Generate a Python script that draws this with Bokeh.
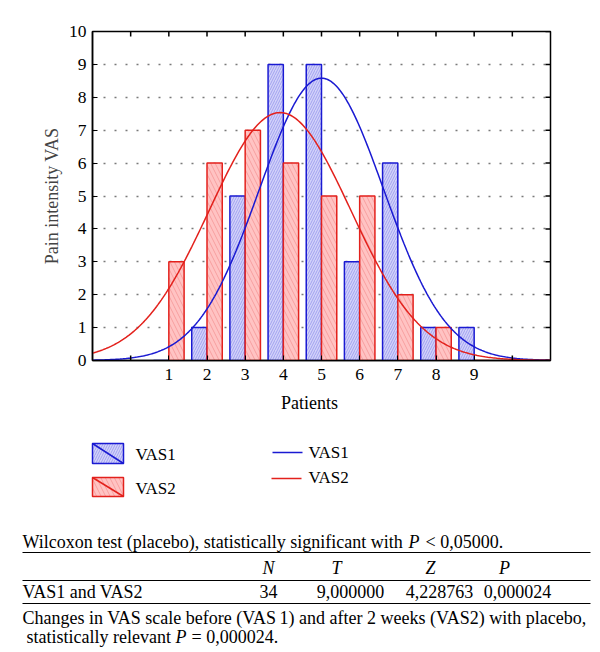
import numpy as np
from bokeh.plotting import figure
from bokeh.models import Range1d, FixedTicker, ColumnDataSource
from bokeh.embed import file_html
from bokeh.resources import INLINE
from bokeh.core.properties import value
from bokeh.transform import dodge

# ---------------- data ----------------
categories = [1, 2, 3, 4, 5, 6, 7, 8, 9]
vas1 = [0, 1, 5, 9, 9, 3, 6, 1, 1]
vas2 = [3, 6, 7, 6, 5, 5, 2, 1, 0]
y_ticks = [0, 1, 2, 3, 4, 5, 6, 7, 8, 9, 10]
x_ticks = [0, 1, 2, 3, 4, 5, 6, 7, 8, 9, 10]
x_label_ticks = [1, 2, 3, 4, 5, 6, 7, 8, 9]
x_unlabeled_ticks = [0, 10]
series_names = ["VAS1", "VAS2"]

table_title = "Wilcoxon test (placebo), statistically significant with"
table_title_end = "< 0,05000."
table_cols = ["N", "T", "Z", "P"]
table_row_label = "VAS1 and VAS2"
table_row_values = ["34", "9,000000", "4,228763", "0,000024"]
note_line1 = "Changes in VAS scale before (VAS\u20091) and after 2 weeks (VAS2) with placebo,"
note_line2_a = "statistically relevant"
note_line2_b = "= 0,000024."

FONT = "Liberation Serif"
BLUE = "#1a1ad2"
RED = "#e3211c"
X_MIN, X_MAX, Y_MIN, Y_MAX = -1, 11, 0, 10


def normal_fit(counts):
    """Normal curve fitted to the histogram counts (as drawn in the original)."""
    c = np.array(categories, dtype=float)
    n = np.array(counts, dtype=float)
    total = n.sum()
    mean = (c * n).sum() / total
    sd = np.sqrt(((c - mean) ** 2 * n).sum() / (total - 1))
    xs = np.linspace(X_MIN, X_MAX, 301)
    ys = total * np.exp(-0.5 * ((xs - mean) / sd) ** 2) / (sd * np.sqrt(2 * np.pi))
    return xs, ys


src = ColumnDataSource(dict(cat=categories, vas1=vas1, vas2=vas2))

# ---------------- main chart ----------------
p = figure(width=600, height=390, x_range=Range1d(X_MIN, X_MAX), y_range=Range1d(Y_MIN, Y_MAX),
           output_backend="svg", toolbar_location=None,
           min_border_left=92, min_border_right=50, min_border_top=31, min_border_bottom=30)
p.outline_line_color = "black"
p.outline_line_width = 1.5
p.background_fill_color = "white"
p.border_fill_color = "white"

p.xgrid.visible = False
p.ygrid.ticker = FixedTicker(ticks=y_ticks[1:-1])
p.ygrid.grid_line_color = "#7a7a7a"
p.ygrid.grid_line_width = 1.5
p.ygrid.grid_line_dash = "2 9"

p.vbar(x=dodge("cat", -0.2, range=p.x_range), top="vas1", width=0.4, source=src,
       fill_color="#d2d2fa", line_color=BLUE, line_width=1.5,
       hatch_pattern="/", hatch_color="#7a7ae6", hatch_alpha=0.55, hatch_scale=5, hatch_weight=1)
p.vbar(x=dodge("cat", 0.2, range=p.x_range), top="vas2", width=0.4, source=src,
       fill_color="#ffc3c3", line_color=RED, line_width=1.5,
       hatch_pattern="\\", hatch_color="#f07a7a", hatch_alpha=0.5, hatch_scale=9, hatch_weight=1)

x1, y1 = normal_fit(vas1)
x2, y2 = normal_fit(vas2)
p.line(x1, y1, line_color=BLUE, line_width=1.5)
p.line(x2, y2, line_color=RED, line_width=1.5)

# inner tick marks on the unlabeled sides (top, right) and the unlabeled bottom ticks
p.ray(x=x_ticks, y=[Y_MAX] * len(x_ticks), length=5, length_units="screen",
      angle=-np.pi / 2, line_color="black", line_width=1.5)
p.ray(x=[X_MAX] * len(y_ticks), y=y_ticks, length=5, length_units="screen",
      angle=np.pi, line_color="black", line_width=1.5)
p.ray(x=x_unlabeled_ticks, y=[Y_MIN] * len(x_unlabeled_ticks), length=5, length_units="screen",
      angle=np.pi / 2, line_color="black", line_width=1.5)

xa = p.xaxis[0]
xa.ticker = FixedTicker(ticks=x_label_ticks)
ya = p.yaxis[0]
ya.ticker = FixedTicker(ticks=y_ticks)
ya.axis_label = "Pain intensity VAS"
ya.axis_label_text_font = FONT
ya.axis_label_text_font_style = "normal"
ya.axis_label_text_font_size = "18px"
ya.axis_label_standoff = 4

for ax in (xa, ya):
    ax.major_label_text_font = FONT
    ax.major_label_text_font_size = "17.5px"
    ax.major_label_text_color = "black"
    ax.major_tick_in = 5
    ax.major_tick_out = 0
    ax.minor_tick_line_color = None
    ax.axis_line_width = 1.5
    ax.axis_line_color = "black"
    ax.major_tick_line_color = "black"
xa.major_label_standoff = 8
ya.major_label_standoff = 6

# ---------------- legend + table panel (page coordinates, y downwards) ----------------
p2 = figure(width=600, height=262, x_range=Range1d(0, 600), y_range=Range1d(652, 390),
            output_backend="svg", toolbar_location=None,
            x_axis_location=None, y_axis_location=None,
            min_border_left=0, min_border_right=0, min_border_top=0, min_border_bottom=0)
p2.grid.visible = False
p2.outline_line_color = None


def txt(x, y, t, size="18px", style="normal", align="left"):
    p2.text(x=x, y=y, text=t, text_font=value(FONT), text_font_size=size,
            text_font_style=style, text_align=align, text_baseline="middle",
            text_color="black")


# x axis title
txt([309], [402], ["Patients"], align="center")

# bar legend
p2.quad(left=[92], right=[123], top=[443], bottom=[463], fill_color="#d2d2fa", line_color=BLUE,
        line_width=1.5, hatch_pattern="/", hatch_color="#7a7ae6", hatch_alpha=0.55, hatch_scale=5)
p2.segment(x0=[92], y0=[443], x1=[123], y1=[463], line_color=BLUE, line_width=1.5)
p2.quad(left=[92], right=[123], top=[477], bottom=[496], fill_color="#ffc3c3", line_color=RED,
        line_width=1.5, hatch_pattern="\\", hatch_color="#f07a7a", hatch_alpha=0.5, hatch_scale=9)
p2.segment(x0=[92], y0=[477], x1=[123], y1=[496], line_color=RED, line_width=1.5)
txt([135, 135], [454, 488], series_names, size="17px")

# line legend
p2.segment(x0=[272], y0=[452], x1=[302], y1=[452], line_color=BLUE, line_width=1.5)
p2.segment(x0=[271], y0=[478], x1=[301], y1=[478], line_color=RED, line_width=1.5)
txt([308, 308], [452, 477], series_names, size="17px")

# table
txt([22], [541], [table_title])
txt([408], [541], ["P"], style="italic")
txt([425], [541], [table_title_end])

p2.segment(x0=[22, 22, 22], y0=[552, 580, 603], x1=[590, 590, 590], y1=[552, 580, 603],
           line_color="black", line_width=1.2)

txt([268, 336, 430, 504], [567] * 4, table_cols, style="italic", align="center")
txt([22], [591], [table_row_label])
txt([268, 350, 439, 517], [591] * 4, table_row_values, align="center")

txt([22], [617], [note_line1])
txt([26], [636], [note_line2_a])
txt([175], [636], ["P"], style="italic")
txt([191], [636], [note_line2_b])

open("out.html", "w").write(file_html([p, p2], INLINE))
